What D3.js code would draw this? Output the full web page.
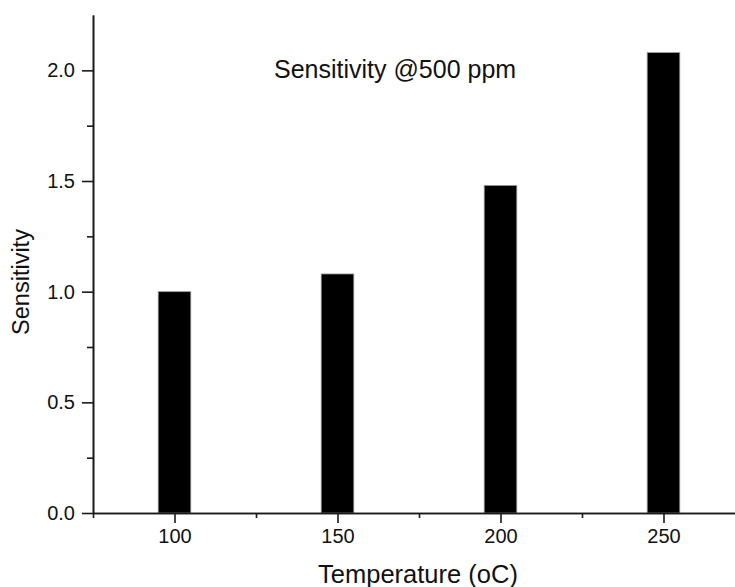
<!DOCTYPE html>
<html>
<head>
<meta charset="utf-8">
<script src="https://cdn.jsdelivr.net/npm/d3@7"></script>
<style>
    body { margin: 0; background: #fff; }
    text { font-family: "Liberation Sans", Arial, sans-serif; fill: #111; }
    .axis path, .axis line { stroke: #1a1a1a; stroke-width: 1.6px; }
</style>
</head>
<body>
<script>
//chart values
var temperatures = [100, 150, 200, 250];
var sensitivity = [1.0, 1.08, 1.48, 2.08];
var xTicks = [100, 150, 200, 250];
var xMinorTicks = [75, 125, 175, 225, 275];
var yTicks = [0, 0.5, 1.0, 1.5, 2.0];
var yMinorTicks = [0.25, 0.75, 1.25, 1.75];

//begin script when window loads
window.onload = drawChart();

function drawChart(){

    var width = 735,
        height = 587;

    var svg = d3.select("body")
        .append("svg")
        .attr("width", width)
        .attr("height", height);

    //scales
    var x = d3.scaleLinear()
        .domain([75, 275])
        .range([93, 745]);

    var y = d3.scaleLinear()
        .domain([0, 2.25])
        .range([513, 15]);

    var barWidth = x(110) - x(100);

    //bars
    svg.selectAll(".bar")
        .data(temperatures)
        .enter()
        .append("rect")
        .attr("class", "bar")
        .attr("x", function(d){ return x(d) - barWidth / 2; })
        .attr("y", function(d, i){ return y(sensitivity[i]); })
        .attr("width", barWidth)
        .attr("height", function(d, i){ return y(0) - y(sensitivity[i]); })
        .attr("fill", "#000")
        .attr("stroke", "#999")
        .attr("stroke-width", 0.8);

    //y axis, minor ticks first
    svg.append("g")
        .attr("class", "axis")
        .attr("transform", "translate(93,0)")
        .call(d3.axisLeft(y).tickValues(yMinorTicks).tickSize(6).tickSizeOuter(0).tickFormat(""));

    var yAxis = svg.append("g")
        .attr("class", "axis")
        .attr("transform", "translate(93,0)")
        .call(d3.axisLeft(y).tickValues(yTicks).tickSize(11).tickSizeOuter(0).tickPadding(7).tickFormat(d3.format(".1f")));
    yAxis.selectAll("text").style("font-size", "20px");

    //x axis
    svg.append("g")
        .attr("class", "axis")
        .attr("transform", "translate(0," + y(0) + ")")
        .call(d3.axisBottom(x).tickValues(xMinorTicks).tickSize(5).tickSizeOuter(0).tickFormat(""));

    var xAxis = svg.append("g")
        .attr("class", "axis")
        .attr("transform", "translate(0," + y(0) + ")")
        .call(d3.axisBottom(x).tickValues(xTicks).tickSize(10).tickSizeOuter(0).tickPadding(6).tickFormat(d3.format("d")));
    xAxis.selectAll("text").style("font-size", "20px");

    //axis titles
    svg.append("text")
        .attr("x", 418)
        .attr("y", 583)
        .attr("text-anchor", "middle")
        .style("font-size", "25.5px")
        .text("Temperature (oC)");

    svg.append("text")
        .attr("transform", "translate(29,282) rotate(-90)")
        .attr("text-anchor", "middle")
        .style("font-size", "23.5px")
        .text("Sensitivity");

    //annotation
    svg.append("text")
        .attr("x", 274)
        .attr("y", 78)
        .style("font-size", "25px")
        .text("Sensitivity @500 ppm");
}
</script>
</body>
</html>
